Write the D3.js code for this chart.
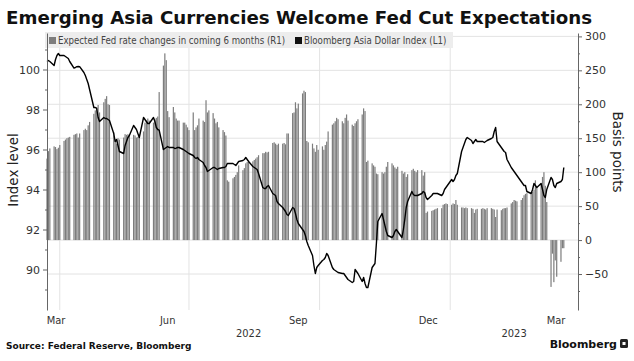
<!DOCTYPE html>
<html>
<head>
<meta charset="utf-8">
<script src="https://cdn.jsdelivr.net/npm/d3@7/dist/d3.min.js"></script>
<style>
  body { margin: 0; background: #fff; }
  text { font-family: "DejaVu Sans", sans-serif; }
</style>
</head>
<body>
<div id="chart"></div>
<script>
// business days from firstDay to lastDay, one row per week
var firstDay = "2022-03-23";
var lastDay = "2023-03-22";

// Expected Fed rate changes in coming 6 months, bp (R1)
var fedChange = [
  120, 131, 135,
  138, 137, 134, 136, 140,
  146, 148, 150, 151, 152,
  155, 156, 157, 151, 157,
  162, 164, 162, 169, 174,
  186, 191, 196, 199, 188,
  203, 208, 212, 200, 199,
  159, 147, 142, 150, 148,
  151, 156, 155, 156, 153,
  155, 154, 151, 152, 155,
  160, 173, 176, 179, 176,
  173, 178, 180, 182, 218,
  257, 275, 265, 190, 181,
  196, 188, 179, 176, 176,
  173, 173, 170, 166, 162,
  188, 162, 166, 169, 179,
  176, 174, 206, 188, 191,
  187, 179, 172, 174, 166,
  162, 159, 154, 88, 86,
  91, 93, 96, 100, 110,
  103, 106, 113, 115, 117,
  116, 118, 120, 122, 125,
  128, 128, 130, 129, 130,
  143, 144, 142, 140, 142,
  142, 143, 141, 157, 157,
  187, 188, 203, 194, 201,
  216, 220, 218, 146, 144,
  142, 135, 130, 140, 133,
  138, 133, 140, 145, 160,
  170, 172, 175, 180, 178,
  175, 172, 180, 185, 176,
  170, 168, 172, 175, 178,
  185, 194, 190, 115, 117,
  113, 110, 108, 98, 97,
  100, 98, 100, 108, 115,
  113, 110, 107, 105, 108,
  102, 98, 100, 93, 97,
  103, 105, 102, 100, 103,
  103, 95, 100, 40, 42,
  43, 44, 45, 46, 47,
  47, 52, 53, 54, 53,
  52, 54, 53, 59, 52,
  48, 48, 47, 48, 47,
  47, 46, 40, 45, 46,
  46, 47, 46, 45, 47,
  47, 46, 45, 34, 45,
  44, 46, 47, 47, 48,
  54, 56, 59, 58, 57,
  59, 62, 66, 68, 69,
  70, 71, 74, 88, 78,
  84, 93, 100, 80, 56,
  -69, -20, -62, -30, -54,
  -32, -12, -12
];

// Bloomberg Asia Dollar Index (L1)
var asiaIndex = [
  100.4, 100.45, 100.4,
  100.2, 100.5, 100.7, 100.8, 100.7,
  100.7, 100.65, 100.6, 100.55, 100.4,
  100.07, 100.1, 100.14, 100.15, 100.14,
  99.85, 99.7, 99.5, 99.3, 99.0,
  98.1, 98.1, 98.05, 97.6, 97.4,
  97.6, 97.55, 97.55, 97.5, 97.45,
  96.8, 96.4, 96.5, 96.2, 95.9,
  95.8, 96.2, 96.4, 96.6, 96.7,
  97.2, 97.1, 97.0, 96.8, 96.6,
  97.6, 97.5, 97.4, 97.3, 97.3,
  97.6, 97.4, 97.1, 97.0, 96.97,
  96.0, 96.05, 96.1, 96.15, 96.1,
  96.1, 96.05, 96.07, 96.1, 96.1,
  96.0, 95.95, 95.9, 95.85, 95.8,
  95.7, 95.6, 95.55, 95.6, 95.5,
  95.35, 95.2, 95.1, 94.9, 94.95,
  95.1, 95.1, 95.05, 95.0, 95.05,
  95.1, 95.1, 95.15, 95.3, 95.3,
  95.3, 95.25, 95.2, 95.3, 95.4,
  95.45, 95.5, 95.6, 95.5, 95.4,
  95.15, 95.1, 95.05, 95.0, 94.8,
  94.1, 94.05, 94.05, 94.15, 94.2,
  93.8, 93.75, 93.7, 93.4, 93.3,
  93.1, 93.0, 92.9, 92.75, 92.7,
  93.1, 93.05, 92.8, 92.5, 92.3,
  92.0, 91.9, 91.7, 91.4, 91.2,
  90.7, 90.2, 89.8, 90.1, 90.2,
  90.45, 90.5, 90.6, 90.8, 90.7,
  90.1, 90.0, 89.95, 89.9, 89.85,
  89.8, 89.8, 89.7, 89.6, 89.5,
  89.35, 89.4, 90.0, 89.9, 89.8,
  89.4, 89.6, 89.3, 89.1, 89.1,
  90.1, 90.2, 90.3, 91.3, 92.4,
  92.8, 92.5, 92.2, 91.9, 91.7,
  91.6, 91.7, 91.9, 92.0, 91.9,
  91.6, 92.0, 92.5, 93.1, 93.4,
  93.9, 93.75, 93.7, 93.7, 93.7,
  93.8, 93.9, 93.85, 93.6, 93.5,
  93.7, 93.8, 93.8, 93.8, 93.8,
  93.7, 93.8, 94.0, 94.1, 94.2,
  94.5, 94.4, 94.5, 94.7, 94.8,
  95.9, 96.1, 96.3, 96.5, 96.6,
  96.45, 96.3, 96.4, 96.5, 96.4,
  96.4, 96.4, 96.35, 96.4, 96.45,
  96.55, 96.6, 96.9, 97.1, 96.4,
  96.1, 96.0, 95.9, 95.85, 95.5,
  95.1, 95.0, 94.9, 94.8, 94.7,
  94.4, 94.3, 94.2, 94.2, 93.9,
  93.8, 94.0, 94.3, 94.2, 94.1,
  94.3, 94.0, 93.7, 93.6, 94.0,
  94.6, 94.5, 94.2, 94.1, 94.3,
  94.4, 94.5, 95.1
];

var leftTicks = [90, 92, 94, 96, 98, 100];
var rightTicks = [-50, 0, 50, 100, 150, 200, 250, 300];
var gridDates = ["2022-04-01", "2022-07-01", "2022-10-01", "2023-01-01"];
var monthLabels = ["Mar", "Jun", "Sep", "Dec", "Mar"];
var monthStarts = ["2022-03-01", "2022-06-01", "2022-09-01", "2022-12-01", "2023-03-01"];
var yearLabels = ["2022", "2023"];
var yearStarts = ["2022-01-01", "2023-01-01"];

var parse = d3.timeParse("%Y-%m-%d");

var days = d3.timeDay.range(parse(firstDay), d3.timeDay.offset(parse(lastDay), 1))
  .filter(function(d) { return d.getDay() > 0 && d.getDay() < 6; });
var n = Math.min(days.length, fedChange.length, asiaIndex.length);

var data = [];
for (var i = 0; i < n; i++) {
  data.push({ date: days[i], bp: fedChange[i], idx: asiaIndex[i] });
}

var plotL = 47, plotR = 578, plotT = 33, plotB = 310;

var x = d3.scaleTime()
  .domain([parse("2022-03-23"), parse("2023-04-01")])
  .range([plotL, plotR]);
var yL = d3.scaleLinear().domain([87.975, 101.825]).range([plotB, plotT]);
var yR = d3.scaleLinear().domain([-103, 305]).range([plotB, plotT]);

var svg = d3.select("#chart")
  .append("svg")
  .attr("width", 634)
  .attr("height", 361);

svg.append("text")
  .attr("x", 6).attr("y", 24)
  .style("font-size", "18.2px").style("font-weight", "bold").style("fill", "#111")
  .text("Emerging Asia Currencies Welcome Fed Cut Expectations");

// grid
svg.selectAll(".hgrid")
  .data(rightTicks)
  .enter().append("line")
  .attr("x1", plotL).attr("x2", plotR)
  .attr("y1", function(d) { return yR(d); })
  .attr("y2", function(d) { return yR(d); })
  .style("stroke", "#e3e3e3").style("stroke-width", 1);

svg.selectAll(".vgrid")
  .data(gridDates)
  .enter().append("line")
  .attr("x1", function(d) { return x(parse(d)); })
  .attr("x2", function(d) { return x(parse(d)); })
  .attr("y1", plotT).attr("y2", plotB)
  .style("stroke", "#e3e3e3").style("stroke-width", 1);

// bars
svg.append("g").selectAll("rect")
  .data(data)
  .enter().append("rect")
  .attr("x", function(d) { return x(d.date) - 0.6; })
  .attr("width", 1.2)
  .attr("y", function(d) { return Math.min(yR(d.bp), yR(0)); })
  .attr("height", function(d) { return Math.abs(yR(d.bp) - yR(0)); })
  .style("fill", "#7d7d7d");

// line
var line = d3.line()
  .x(function(d) { return x(d.date); })
  .y(function(d) { return yL(d.idx); });

svg.append("path")
  .datum(data)
  .attr("d", line)
  .style("fill", "none")
  .style("stroke", "#000")
  .style("stroke-width", 1.4)
  .style("stroke-linejoin", "round");

// legend
var legend = svg.append("g");
legend.append("rect")
  .attr("x", 45).attr("y", 32).attr("width", 408).attr("height", 16)
  .style("fill", "#ededed");
legend.append("rect").attr("x", 49).attr("y", 37).attr("width", 7).attr("height", 7).style("fill", "#7d7d7d");
legend.append("text").attr("x", 58).attr("y", 44)
  .style("font-family", "DejaVu Sans Condensed").style("font-size", "9.6px").style("fill", "#444")
  .text("Expected Fed rate changes in coming 6 months (R1)");
legend.append("rect").attr("x", 295).attr("y", 37).attr("width", 7).attr("height", 7).style("fill", "#111");
legend.append("text").attr("x", 304).attr("y", 44)
  .style("font-family", "DejaVu Sans Condensed").style("font-size", "9.6px").style("fill", "#444")
  .text("Bloomberg Asia Dollar Index (L1)");

// axes
var leftAxis = svg.append("g")
  .attr("transform", "translate(" + plotL + ",0)")
  .call(d3.axisLeft(yL).tickValues(leftTicks).tickSize(4).tickSizeOuter(0).tickFormat(d3.format("d")));
svg.append("g")
  .attr("transform", "translate(" + plotL + ",0)")
  .call(d3.axisLeft(yL).tickValues([89, 91, 93, 95, 97, 99, 101]).tickSize(2).tickFormat(""))
  .select(".domain").remove();

var rightAxis = svg.append("g")
  .attr("transform", "translate(" + plotR + ",0)")
  .call(d3.axisRight(yR).tickValues(rightTicks).tickSize(4).tickSizeOuter(0));
svg.append("g")
  .attr("transform", "translate(" + plotR + ",0)")
  .call(d3.axisRight(yR).tickValues([-75, -25, 25, 75, 125, 175, 225, 275]).tickSize(2).tickFormat(""))
  .select(".domain").remove();

svg.selectAll(".domain, .tick line").style("stroke", "#666");
[leftAxis, rightAxis].forEach(function(a) {
  a.selectAll("text")
    .style("font-family", "DejaVu Sans")
    .style("font-size", "11px")
    .style("fill", "#333");
});

svg.append("text")
  .attr("transform", "translate(18,170) rotate(-90)")
  .attr("text-anchor", "middle")
  .style("font-size", "13.5px").style("fill", "#222")
  .text("Index level");

svg.append("text")
  .attr("transform", "translate(613,152) rotate(90)")
  .attr("text-anchor", "middle")
  .style("font-size", "13.5px").style("fill", "#222")
  .text("Basis points");

// month and year labels centred on the visible part of each period
var d0 = x.domain()[0], d1 = x.domain()[1];
function midOf(a, b) {
  var s = a < d0 ? d0 : a, e = b > d1 ? d1 : b;
  return (x(s) + x(e)) / 2;
}

svg.selectAll(".month")
  .data(monthLabels)
  .enter().append("text")
  .attr("x", function(d, i) {
    var s = parse(monthStarts[i]);
    return Math.max(midOf(s, d3.timeMonth.offset(s, 1)), plotL + 9);
  })
  .attr("y", 324)
  .attr("text-anchor", "middle")
  .style("font-family", "DejaVu Sans Condensed").style("font-size", "11px").style("fill", "#333")
  .text(function(d) { return d; });

svg.selectAll(".year")
  .data(yearLabels)
  .enter().append("text")
  .attr("x", function(d, i) {
    var s = parse(yearStarts[i]);
    return midOf(s, d3.timeYear.offset(s, 1));
  })
  .attr("y", 337)
  .attr("text-anchor", "middle")
  .style("font-family", "DejaVu Sans Condensed").style("font-size", "11px").style("fill", "#333")
  .text(function(d) { return d; });

// footer
svg.append("text")
  .attr("x", 6).attr("y", 349)
  .style("font-size", "9px").style("font-weight", "bold").style("fill", "#111")
  .text("Source: Federal Reserve, Bloomberg");

svg.append("text")
  .attr("x", 617).attr("y", 348)
  .attr("text-anchor", "end")
  .style("font-size", "11px").style("font-weight", "bold").style("fill", "#111")
  .text("Bloomberg");
svg.append("rect")
  .attr("x", 620).attr("y", 339).attr("width", 8).attr("height", 9).attr("rx", 1.5)
  .style("fill", "#222");
svg.append("rect")
  .attr("x", 622.5).attr("y", 342).attr("width", 3).attr("height", 3)
  .style("fill", "#fff");
</script>
</body>
</html>
